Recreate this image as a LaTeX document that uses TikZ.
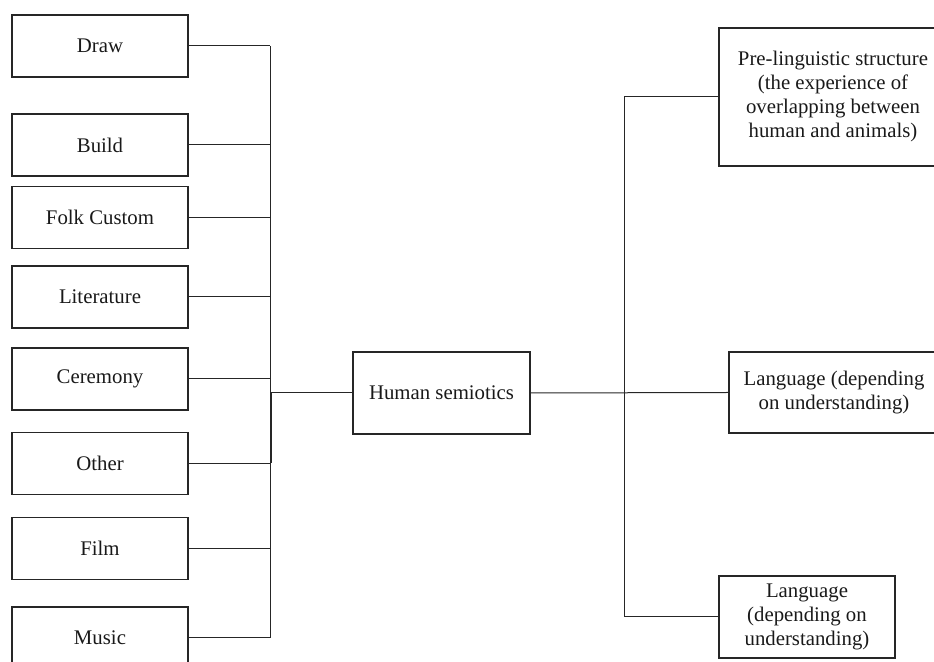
\documentclass[tikz,border=0pt]{standalone}
\usepackage{fontspec}
\setmainfont{Liberation Serif}
\usetikzlibrary{positioning}

\begin{document}
\begin{tikzpicture}[x=0.5pt,y=-0.5pt]

% definizione dello stile delle linee
\tikzset{myline/.style={draw=black!85, line width=0.5pt}}
% definizione delle caratteristiche del nodo
\tikzset{mybox/.style={rectangle, draw=black!85, line width=0.65pt, align=center, inner sep=0pt,
  font=\fontsize{10.4}{12}\selectfont, text=black!90}}
\tikzset{leftbox/.style={mybox, minimum width=88pt, minimum height=31pt}}

% area del disegno
\useasboundingbox (0,0) rectangle (934,662);

% Disegna i nodi a sinistra
\foreach \nome/\y/\testo in {drawbox/46/Draw, buildbox/145/Build, folkbox/217.5/Folk Custom,
  litbox/297/Literature, cerbox/379/Ceremony, otherbox/463.5/Other, filmbox/548.5/Film,
  musicbox/638/Music}
\node[leftbox] (\nome) at (100,\y) {\testo};

% nodo centrale
\node[mybox, minimum width=88.5pt, minimum height=41pt] (human) at (441.5,393) {Human semiotics};

% nodi a destra
\node[mybox, minimum width=114pt, minimum height=69pt] (pre) at (833,97)
  {Pre-linguistic structure\\(the experience of\\overlapping between\\human and animals)};
\node[mybox, minimum width=105pt, minimum height=40.5pt] (lang) at (834,392.5)
  {Language (depending\\on understanding)};
\node[mybox, minimum width=88pt, minimum height=41pt] (langb) at (807,617)
  {Language\\(depending on\\understanding)};

% punti di appoggio delle linee
\coordinate (lbus) at (270,46);
\coordinate (lbusend) at (270,638);
\coordinate (hub) at (271.5,393);
\coordinate (rbus) at (624,617);

%Disegna linee a sinistra
\draw[myline] (lbus) -- (lbusend);
\foreach \nome in {drawbox,buildbox,folkbox,litbox,cerbox,otherbox,filmbox,musicbox}
\draw[myline] (\nome.east) -- (\nome.east -| lbus);
\draw[myline] (human.west) -- (hub) -- (hub |- otherbox.east);

%Disegna linee a destra
\draw[myline] (human.east) -- (lang.west);
\draw[myline] (pre.west) -| (rbus) -- (langb.west);

\end{tikzpicture}
\end{document}
